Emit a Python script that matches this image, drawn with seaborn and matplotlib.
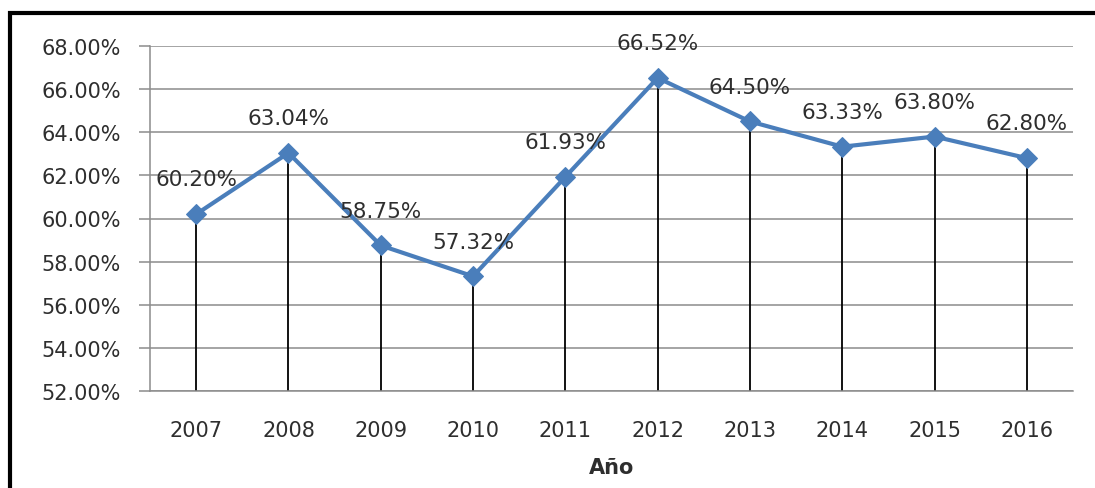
import matplotlib
matplotlib.use("Agg")
import matplotlib.pyplot as plt
from matplotlib.patches import Rectangle
from matplotlib.ticker import FuncFormatter
import seaborn as sns
import pandas as pd

# Annual rate by year
years = ["2007", "2008", "2009", "2010", "2011", "2012", "2013", "2014", "2015", "2016"]
rates = [60.20, 63.04, 58.75, 57.32, 61.93, 66.52, 64.50, 63.33, 63.80, 62.80]
y_ticks = [52, 54, 56, 58, 60, 62, 64, 66, 68]

df = pd.DataFrame({"Año": years, "rate": rates})

sns.set_theme(style="white")
plt.rcParams["font.family"] = ["DejaVu Sans"]

W, H, DPI = 1095, 489, 100
fig = plt.figure(figsize=(W / DPI, H / DPI), dpi=DPI)
ax = fig.add_axes([150 / W, 1 - 392 / H, (1073 - 150) / W, (392 - 47) / H])

text_color = "#2E2E2E"
line_color = "#4A7EBB"
grid_color = "#8C8C8C"

# Drop lines from each point down to the category axis
pos = list(range(len(years)))
ax.vlines(pos, y_ticks[0], rates, colors="black", linewidth=1.3, zorder=2)

sns.lineplot(data=df, x="Año", y="rate", ax=ax, sort=False, color=line_color,
             linewidth=3.0, marker="D", markersize=10, markeredgecolor=line_color,
             zorder=3)

for x, v in zip(pos, rates):
    ax.annotate(f"{v:.2f}%", (x, v), xytext=(0, 25), textcoords="offset points",
                ha="center", va="center", fontsize=15.5, color=text_color, zorder=4)

ax.set_xlim(-0.5, len(years) - 0.5)
ax.set_ylim(y_ticks[0], y_ticks[-1])
ax.set_yticks(y_ticks)
ax.yaxis.set_major_formatter(FuncFormatter(lambda v, _: f"{v:.2f}%"))
ax.grid(axis="y", color=grid_color, linewidth=1.1)
ax.grid(axis="x", visible=False)
ax.set_axisbelow(True)

for side in ["top", "right"]:
    ax.spines[side].set_visible(False)
ax.spines["left"].set_color(grid_color)
ax.spines["left"].set_linewidth(1.1)
ax.spines["bottom"].set_color(grid_color)
ax.spines["bottom"].set_linewidth(1.1)

ax.tick_params(axis="y", which="major", left=True, length=8, width=1.1,
               color=grid_color, pad=13, labelsize=15, labelcolor=text_color)
ax.tick_params(axis="x", which="major", bottom=False, pad=15,
               labelsize=15, labelcolor=text_color)

ax.set_ylabel("")
ax.set_xlabel("Año", fontsize=15, fontweight="bold", color=text_color, labelpad=12)

# Outer chart frame
fig.patches.append(Rectangle((9.5 / W, -0.2), 1.2, 1.2 - 13.5 / H,
                             transform=fig.transFigure, fill=False,
                             edgecolor="black", linewidth=3.0))

fig.savefig("out.png", dpi=DPI, facecolor="white")
